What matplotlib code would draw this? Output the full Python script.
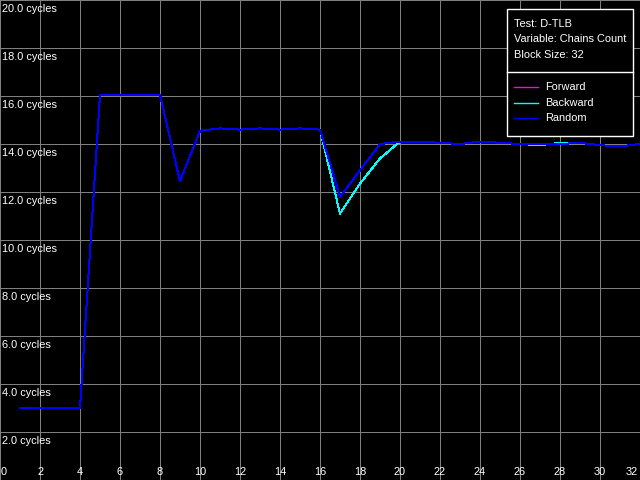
import matplotlib
matplotlib.use("Agg")
import matplotlib.pyplot as plt
from matplotlib.patches import Rectangle
from matplotlib.lines import Line2D

x_vals = list(range(1, 33))
random_vals = [3.0, 3.0, 3.0, 3.0, 16.05, 16.05, 16.05, 16.05, 12.45, 14.55,
               14.65, 14.6, 14.65, 14.6, 14.65, 14.6, 11.8, 12.9, 14.0, 14.1,
               14.1, 14.05, 14.0, 14.1, 14.05, 14.0, 14.0, 14.0, 14.05, 13.95,
               13.9, 14.0]
backward_vals = [3.0, 3.0, 3.0, 3.0, 16.05, 16.05, 16.05, 16.05, 12.45, 14.55,
                 14.65, 14.6, 14.65, 14.6, 14.65, 14.6, 11.1, 12.35, 13.4, 14.1,
                 14.1, 14.05, 14.0, 14.1, 14.05, 14.0, 13.95, 14.05, 14.05, 13.95,
                 13.9, 14.0]
forward_vals = list(random_vals)

x_ticks = list(range(0, 33, 2))
y_ticks = [2, 4, 6, 8, 10, 12, 14, 16, 18, 20]
y_labels = ["%.1f cycles" % v for v in y_ticks]

info_lines = ["Test: D-TLB", "Variable: Chains Count", "Block Size: 32"]
series_names = ["Forward", "Backward", "Random"]
series_colors = ["#ff00ff", "#00ffff", "#0000ff"]

plt.rcParams['font.family'] = ['Liberation Sans', 'DejaVu Sans']
fig = plt.figure(figsize=(6.4, 4.8), dpi=100, facecolor="black")
ax = fig.add_axes([0, 0, 1, 1])
ax.set_facecolor("black")
ax.set_xlim(0, 32)
ax.set_ylim(0, 20)
for s in ax.spines.values():
    s.set_visible(False)
ax.set_xticks([])
ax.set_yticks([])

LW = 0.72
for xv in x_ticks:
    ax.axvline(xv, color="#808080", lw=LW, zorder=1, snap=True)
for yv in y_ticks:
    ax.axhline(yv, color="#808080", lw=LW, zorder=1, snap=True)

fs = 7.9
for yv, lab in zip(y_ticks, y_labels):
    ax.annotate(lab, xy=(0, yv), xytext=(2, -9), textcoords="offset pixels",
                color="white", fontsize=fs, ha="left", va="center", zorder=5)
for xv in x_ticks:
    ha = "center"
    dx = 0
    if xv == 0:
        ha = "left"; dx = 1
    elif xv == 32:
        ha = "right"; dx = -2
    ax.annotate(str(xv), xy=(xv, 0), xytext=(dx, 8), textcoords="offset pixels",
                color="white", fontsize=fs, ha=ha, va="center", zorder=5)

data = [forward_vals, backward_vals, random_vals]
for name, col, vals in zip(series_names, series_colors, data):
    ax.plot(x_vals, vals, color=col, lw=LW, zorder=3, antialiased=False)

# legend box in pixel coordinates (figure fraction)
W, H = 640.0, 480.0
def fx(px): return px / W
def fy(py): return 1 - py / H

box = Rectangle((fx(507), fy(136)), fx(633) - fx(507), fy(9) - fy(136),
                transform=fig.transFigure, facecolor="black", edgecolor="white",
                lw=1.0, zorder=10, snap=True)
fig.patches.append(box)
fig.add_artist(Line2D([fx(507), fx(633)], [fy(72), fy(72)], color="white",
                      lw=1.0, transform=fig.transFigure, zorder=11, snap=True))
for i, t in enumerate(info_lines):
    fig.text(fx(514), fy(24 + i * 15.5), t, color="white", fontsize=fs,
             ha="left", va="center", zorder=12)
for i, (name, col) in enumerate(zip(series_names, series_colors)):
    yy = fy(87 + i * 15.5)
    fig.add_artist(Line2D([fx(514), fx(538)], [yy, yy], color=col, lw=1.0,
                          transform=fig.transFigure, zorder=12, snap=True))
    fig.text(fx(545), yy, name, color="white", fontsize=fs, ha="left",
             va="center", zorder=12)

fig.savefig("out.png", dpi=100, facecolor="black")
